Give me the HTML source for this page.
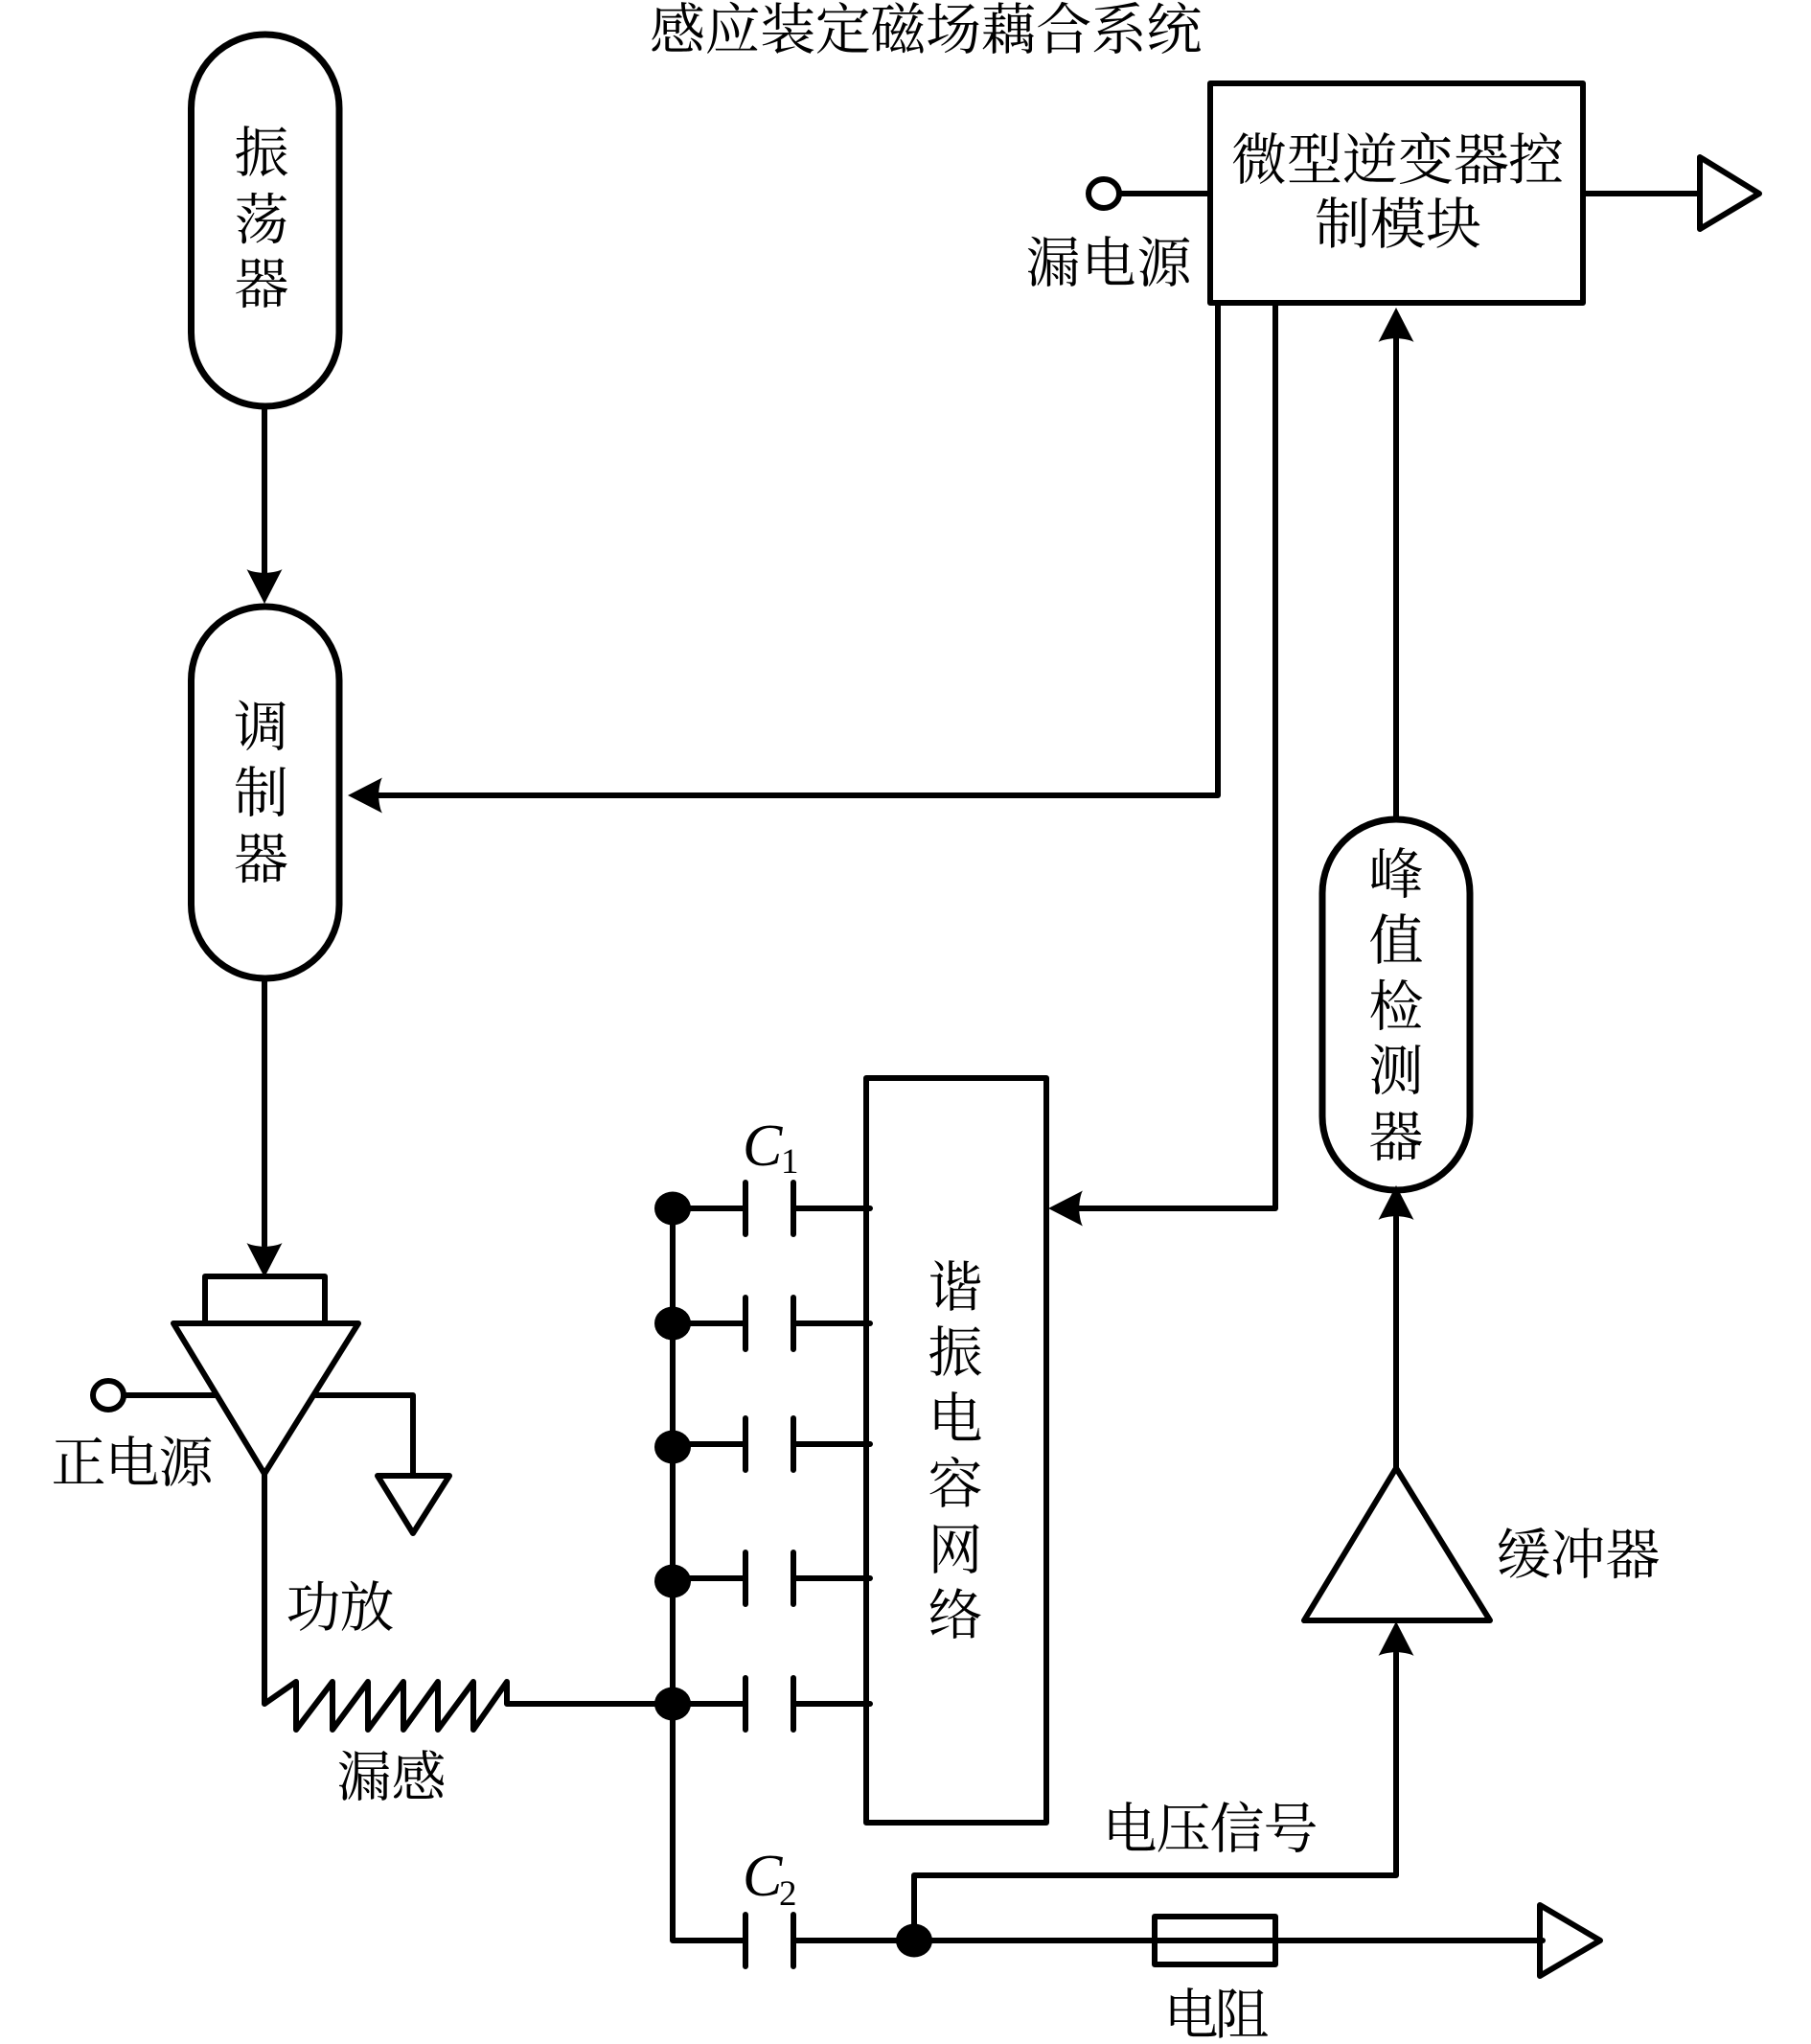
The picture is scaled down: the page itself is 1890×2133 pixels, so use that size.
<!DOCTYPE html>
<html lang="zh-CN">
<head>
<meta charset="utf-8">
<title>感应装定磁场藕合系统</title>
<style>
html,body{margin:0;padding:0;background:#fff;width:1890px;height:2133px;overflow:hidden}
svg{display:block}
text{font-family:"Liberation Serif","Noto Serif CJK SC","Noto Serif CJK JP",serif;font-size:57px;fill:#000;text-anchor:middle}
.s{fill:none;stroke:#000;stroke-width:6;stroke-linejoin:round;stroke-linecap:round}
.w{fill:#fff;stroke:#000;stroke-width:6;stroke-linejoin:round;stroke-linecap:round}
.p{fill:#fff;stroke:#000;stroke-width:7}
.c{font-style:italic;font-size:62px;text-anchor:start}
.n{font-size:37px;text-anchor:start}
</style>
</head>
<body>
<svg xmlns="http://www.w3.org/2000/svg" xmlns:xlink="http://www.w3.org/1999/xlink" width="1890" height="2133" viewBox="0 0 1890 2133">
<rect width="1890" height="2133" fill="#fff"/>
<defs>
<path id="a" d="M0 0L18.500 -36Q14 -33 0 -32Q-14 -33 -18.500 -36Z" fill="#000"/>
<g id="cap">
<path class="s" d="M0 0H76M126 0H206M76 -27V27M126 -27V27"/>
</g>
</defs>

<!-- wires -->
<path class="s" d="M276 424V600"/>
<path class="s" d="M276 1021V1300"/>
<path class="s" d="M1271 316V830H395"/>
<path class="s" d="M1331 316V1261H1125"/>
<path class="s" d="M1457 855V350"/>
<path class="s" d="M1457 1532V1270"/>
<path class="s" d="M954 2025V1957H1457V1725"/>
<path class="s" d="M702 1261V2025H778"/>
<path class="s" d="M828 2025H1610"/>
<path class="s" d="M778 1998V2052M828 1998V2052"/>
<path class="s" d="M1171 202H1263M1652 202H1774"/>
<path class="s" d="M131 1456H224M330 1456H431V1540"/>
<path class="s" d="M276 1538V1778L309 1755V1805L347 1755V1805L384 1755V1805L421 1755V1805L457 1755V1805L494 1755V1805L529 1755V1778H702"/>

<!-- oscillator, modulator, peak detector -->
<rect class="p" x="199.500" y="36" width="154.500" height="388" rx="77" ry="77"/>
<rect class="p" x="199.500" y="633" width="154.500" height="388" rx="77" ry="77"/>
<rect class="p" x="1380" y="855" width="154" height="387" rx="77" ry="77"/>

<!-- control box -->
<rect class="w" x="1263" y="87" width="389" height="229"/>
<ellipse class="w" cx="1152" cy="202" rx="16" ry="15"/>
<path class="w" d="M1774 164V239L1836 202Z"/>

<!-- resonant network box -->
<rect class="s" x="904" y="1125" width="188" height="777"/>

<!-- power amp -->
<path class="w" d="M214 1381V1332H339V1381"/>
<path class="w" d="M181 1381H374L276 1538Z"/>
<ellipse class="w" cx="113" cy="1456" rx="16" ry="15"/>
<path class="w" d="M394 1540H469L431 1600Z"/>

<!-- capacitors -->
<use xlink:href="#cap" href="#cap" x="702" y="1261"/>
<use xlink:href="#cap" href="#cap" x="702" y="1381"/>
<use xlink:href="#cap" href="#cap" x="702" y="1507"/>
<use xlink:href="#cap" href="#cap" x="702" y="1647"/>
<use xlink:href="#cap" href="#cap" x="702" y="1778"/>
<ellipse cx="702" cy="1261" rx="19" ry="17.500"/>
<ellipse cx="702" cy="1381" rx="19" ry="17.500"/>
<ellipse cx="702" cy="1510" rx="19" ry="17.500"/>
<ellipse cx="702" cy="1650" rx="19" ry="17.500"/>
<ellipse cx="702" cy="1778" rx="19" ry="17.500"/>
<ellipse cx="954" cy="2025" rx="19" ry="17.500"/>

<!-- buffer, resistor, output -->
<path class="w" d="M1457 1532L1361 1691H1555Z"/>
<rect class="s" x="1205" y="2000" width="126" height="50"/>
<path class="s" d="M1607 1988V2062L1670 2025Z"/>

<!-- arrowheads -->
<use xlink:href="#a" href="#a" transform="translate(276 630)"/>
<use xlink:href="#a" href="#a" transform="translate(276 1333)"/>
<use xlink:href="#a" href="#a" transform="translate(363 830) rotate(90)"/>
<use xlink:href="#a" href="#a" transform="translate(1094 1261) rotate(90)"/>
<use xlink:href="#a" href="#a" transform="translate(1457 321) rotate(180)"/>
<use xlink:href="#a" href="#a" transform="translate(1457 1237) rotate(180)"/>
<use xlink:href="#a" href="#a" transform="translate(1457 1692) rotate(180)"/>

<!-- labels -->
<text style="font-size:58px" x="707 764.600 822.200 879.800 937.400 995 1052.600 1110.200 1167.800 1225.400" y="51">感应装定磁场藕合系统</text>
<text x="273" y="179">振</text><text x="273" y="249">荡</text><text x="273" y="316">器</text>
<text x="272.500" y="778">调</text><text x="272.500" y="847">制</text><text x="272.500" y="916">器</text>
<text x="1457" y="932">峰</text><text x="1457" y="1001">值</text><text x="1457" y="1070">检</text><text x="1457" y="1137">测</text><text x="1457" y="1206">器</text>
<text x="997" y="1363">谐</text><text x="997" y="1431">振</text><text x="997" y="1500">电</text><text x="997" y="1568">容</text><text x="997" y="1637">网</text><text x="997" y="1705">络</text>
<text style="font-size:58px" x="1314 1372 1430 1488 1546 1603" y="187">微型逆变器控</text>
<text style="font-size:58px" x="1401 1459 1517" y="254">制模块</text>
<text x="1099 1157 1215" y="294">漏电源</text>
<text x="82 138 194" y="1546">正电源</text>
<text x="327 383" y="1697">功放</text>
<text x="380 437" y="1874">漏感</text>
<text x="1590 1647 1704" y="1642">缓冲器</text>
<text x="1179 1235 1291 1347" y="1928">电压信号</text>
<text x="1243 1296" y="2122">电阻</text>
<text class="c" x="775" y="1216">C</text><text class="n" x="815" y="1224">1</text>
<text class="c" x="775" y="1978">C</text><text class="n" x="813" y="1988">2</text>
</svg>
</body>
</html>
